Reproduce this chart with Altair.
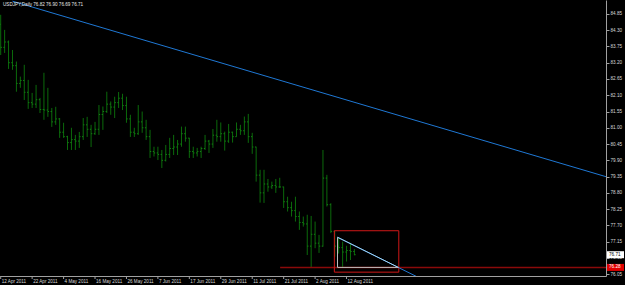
import altair as alt
import pandas as pd

symbol = "USDJPY,Daily"

highs = [84.82, 84.31, 83.95, 83.63, 83.24, 82.73, 83.13, 82.62, 82.18, 82.45,
         82.01, 82.86, 82.35, 81.67, 81.71, 81.33, 81.17, 80.73, 81.00, 80.76,
         80.86, 81.33, 81.37, 81.10, 81.20, 81.77, 81.72, 82.22, 81.89, 82.05,
         82.21, 82.15, 82.05, 81.44, 81.00, 81.77, 81.55, 81.27, 80.93, 80.36,
         80.36, 80.25, 80.42, 80.66, 80.76, 80.59, 81.04, 81.04, 80.66, 80.36,
         80.32, 80.36, 80.76, 80.59, 80.96, 81.27, 81.18, 80.87, 81.13, 80.87,
         81.18, 81.10, 81.38, 81.47, 80.83, 80.36, 79.58, 79.58, 79.27, 79.18,
         79.27, 79.31, 79.01, 78.67, 78.50, 78.67, 78.17, 78.00, 78.06, 78.02,
         77.83, 77.38, 80.25, 79.41, 78.45, 77.52, 77.30, 77.15, 77.01, 77.11, 76.90]

lows = [83.46, 83.53, 82.99, 82.96, 82.22, 82.35, 81.94, 81.64, 81.67, 81.67,
        81.50, 81.27, 81.37, 81.03, 81.10, 80.66, 80.66, 80.25, 80.25, 80.25,
        80.32, 80.59, 80.69, 80.35, 80.76, 80.76, 80.93, 81.50, 81.44, 81.33,
        81.67, 81.60, 81.17, 80.69, 80.69, 80.76, 80.83, 80.59, 79.98, 80.03,
        79.91, 79.64, 79.86, 79.98, 80.08, 80.08, 80.36, 80.53, 79.98, 79.98,
        80.03, 79.98, 80.25, 80.15, 80.32, 80.53, 80.53, 80.23, 80.49, 80.50,
        80.70, 80.76, 80.76, 80.49, 80.12, 79.18, 78.47, 78.46, 78.84, 78.93,
        78.80, 78.97, 78.29, 78.17, 78.00, 77.83, 77.55, 77.66, 76.70, 76.28,
        76.93, 76.77, 76.98, 78.34, 77.44, 76.64, 76.75, 76.29, 76.48, 76.53, 76.69]

opens = [84.50, 83.72, 83.90, 83.20, 83.10, 82.50, 82.60, 82.20, 81.85, 81.80,
         81.95, 81.62, 81.60, 81.55, 81.20, 81.30, 80.85, 80.70, 80.50, 80.60,
         80.55, 80.70, 81.10, 80.95, 80.80, 80.95, 81.45, 81.55, 81.80, 81.70,
         81.85, 82.00, 81.75, 81.30, 80.85, 80.80, 81.20, 81.00, 80.70, 80.20,
         80.15, 80.10, 79.90, 80.10, 80.30, 80.35, 80.45, 80.80, 80.65, 80.20,
         80.15, 80.20, 80.30, 80.55, 80.45, 80.75, 80.70, 80.80, 80.55, 80.85,
         80.70, 80.95, 80.90, 81.20, 80.70, 80.35, 79.40, 78.80, 79.10, 79.00,
         79.05, 79.00, 79.00, 78.50, 78.30, 78.20, 78.00, 77.80, 77.75, 77.00,
         77.40, 77.10, 77.00, 79.30, 78.40, 77.50, 77.00, 76.95, 76.80, 76.85, 76.82]

closes = [83.72, 83.90, 83.20, 83.10, 82.50, 82.60, 82.20, 81.85, 81.80, 81.95,
          81.62, 81.60, 81.55, 81.20, 81.30, 80.85, 80.70, 80.50, 80.60, 80.55,
          80.70, 81.10, 80.95, 80.80, 80.95, 81.45, 81.55, 81.80, 81.70, 81.85,
          82.00, 81.75, 81.30, 80.85, 80.80, 81.20, 81.00, 80.70, 80.20, 80.15,
          80.10, 79.90, 80.10, 80.30, 80.35, 80.45, 80.80, 80.65, 80.20, 80.15,
          80.20, 80.30, 80.55, 80.45, 80.75, 80.70, 80.80, 80.55, 80.85, 80.70,
          80.95, 80.90, 81.20, 80.70, 80.35, 79.40, 78.80, 79.10, 79.00, 79.05,
          79.00, 79.00, 78.50, 78.30, 78.20, 78.00, 77.80, 77.75, 77.00, 77.40,
          77.10, 77.00, 79.30, 78.40, 77.50, 77.00, 76.95, 76.80, 76.85, 76.82, 76.71]

date_idx = [0, 8, 16, 24, 32, 40, 48, 56, 64, 72, 80, 88]
date_labels = ["12 Apr 2011", "22 Apr 2011", "4 May 2011", "16 May 2011", "26 May 2011",
               "7 Jun 2011", "17 Jun 2011", "29 Jun 2011", "11 Jul 2011", "21 Jul 2011",
               "2 Aug 2011", "12 Aug 2011"]

price_ticks = [84.85, 84.30, 83.75, 83.20, 82.65, 82.10, 81.55, 81.00, 80.45,
               79.90, 79.35, 78.80, 78.25, 77.70, 77.15, 76.60, 76.05]

trend1_i = [3.0, 154.2]
trend1_p = [85.28, 79.34]
trend2_i = [85.7, 106.0]
trend2_p = [77.30, 75.96]
tri_i = [85.7, 85.7, 101.2]
tri_p = [77.30, 76.28, 76.28]
box_i = [84.9, 101.3]
box_p = [77.52, 76.12]
support_level = 76.28
support_start = 71.1

n = len(highs)
bars = pd.DataFrame({"i": list(range(n)), "open": opens, "high": highs,
                     "low": lows, "close": closes})

XS = alt.Scale(domain=[-0.178, 154.02], nice=False, zero=False)
YS = alt.Scale(domain=[75.99, 85.32], nice=False, zero=False)
GREEN = "#0b6a0b"
TICKG = "#138413"
FONT = "Liberation Sans"
FS = 4.6

yaxis = alt.Axis(values=price_ticks, format=".2f", orient="right", title=None,
                 grid=False, labelColor="#d8d8d8", labelFontSize=FS, labelFont=FONT,
                 tickColor="#a0a0a0", tickSize=3, domainColor="#a0a0a0",
                 labelPadding=1, labelBaseline="middle", labelFlush=False,
                 labelOverlap=False)
xaxis = alt.Axis(labels=False, ticks=False, title=None, grid=False,
                 domainColor="#a0a0a0", orient="bottom")


def X(f):
    return alt.X(f, type="quantitative", scale=XS, axis=xaxis)


def Y(f):
    return alt.Y(f, type="quantitative", scale=YS, axis=yaxis)


base = alt.Chart(bars)

hl = base.mark_rule(color=GREEN, strokeWidth=1, clip=True).encode(
    x=X("i"), y=Y("low"), y2="high")
op = base.mark_rule(color=TICKG, strokeWidth=1, xOffset=-1.2, x2Offset=0, clip=True).encode(
    x=X("i"), x2="i", y=Y("open"))
cl = base.mark_rule(color=TICKG, strokeWidth=1, xOffset=0, x2Offset=1.2, clip=True).encode(
    x=X("i"), x2="i", y=Y("close"))

t1 = alt.Chart(pd.DataFrame({"i": trend1_i, "p": trend1_p})).mark_line(
    color="#1f78d4", strokeWidth=1, clip=True).encode(x=X("i"), y=Y("p"))
t2 = alt.Chart(pd.DataFrame({"i": trend2_i, "p": trend2_p})).mark_line(
    color="#1f78d4", strokeWidth=1, clip=True).encode(x=X("i"), y=Y("p"))

support = alt.Chart(pd.DataFrame({"i": [support_start], "p": [support_level]})).mark_rule(
    color="#8a0a0a", strokeWidth=1.5, clip=True).encode(
    x=X("i"), x2=alt.value(606), y=Y("p"))

tri_df = pd.DataFrame({"i": tri_i, "p": tri_p, "o": list(range(len(tri_i)))})
tri = alt.Chart(tri_df).mark_line(color="#bdbdbd", strokeWidth=1, clip=True).encode(
    x=X("i"), y=Y("p"), order="o:Q")
hyp = alt.Chart(pd.DataFrame({"i": [tri_i[0], tri_i[2]], "p": [tri_p[0], tri_p[2]]})).mark_line(
    color="#a6d6f2", strokeWidth=1, clip=True).encode(x=X("i"), y=Y("p"))

box = alt.Chart(pd.DataFrame({"i": [box_i[0]], "i2": [box_i[1]],
                              "p": [box_p[0]], "p2": [box_p[1]]})).mark_rect(
    fillOpacity=0, stroke="#d01818", strokeWidth=1, clip=True).encode(
    x=X("i"), x2="i2", y=Y("p"), y2="p2")

dates = pd.DataFrame({"i": date_idx, "label": date_labels})
dtext = alt.Chart(dates).mark_text(align="left", baseline="middle", fontSize=FS,
                                   font=FONT, color="#d8d8d8", dx=1).encode(
    x=X("i"), y=alt.value(281.5), text="label:N")
dtick = alt.Chart(dates).mark_rule(color="#a0a0a0", strokeWidth=1).encode(
    x=X("i"), y=alt.value(276), y2=alt.value(279))

header_txt = f"{symbol}  {opens[-1]:.2f} {highs[-1]:.2f} {lows[-1]:.2f} {closes[-1]:.2f}"
header = alt.Chart(pd.DataFrame({"t": [header_txt]})).mark_text(
    align="left", baseline="middle", fontSize=FS, font=FONT, color="#e8e8e8").encode(
    x=alt.value(3), y=alt.value(5), text="t:N")

tags = pd.DataFrame({"p": [closes[-1], support_level],
                     "t": [f"{closes[-1]:.2f}", f"{support_level:.2f}"],
                     "bg": ["#ffffff", "#e00000"], "fg": ["#000000", "#ffffff"]})
tag_box = alt.Chart(tags).mark_rect(yOffset=-3.5, y2Offset=3.5).encode(
    x=alt.value(607), x2=alt.value(624),
    y=Y("p"), y2="p",
    fill=alt.Fill("bg:N", scale=None))
tag_txt = alt.Chart(tags).mark_text(align="left", baseline="middle", fontSize=FS, font=FONT).encode(
    x=alt.value(609), y=Y("p"), text="t:N",
    color=alt.Color("fg:N", scale=None))

chart = alt.layer(hl, op, cl, t1, support, box, t2, tri, hyp, dtick, dtext, header,
                  tag_box, tag_txt).properties(
    width=606, height=276,
    autosize=alt.AutoSizeParams(type="none"),
    padding={"left": 0, "top": 0, "right": 19, "bottom": 9},
    background="#000000",
).configure_view(stroke=None)

chart.save("out.html", embed_options={"renderer": "svg", "actions": False})
